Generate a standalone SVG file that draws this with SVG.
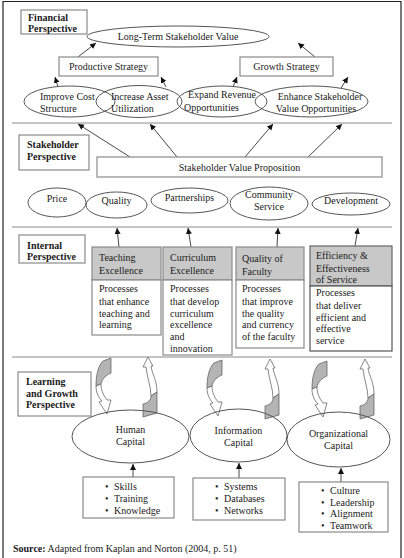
<svg xmlns="http://www.w3.org/2000/svg" width="404" height="558" viewBox="0 0 404 558">
<defs>
<style>
text{font-family:"Liberation Serif","Times New Roman",serif;font-size:10px;fill:#1a1a1a}
.b{font-weight:bold}
.m{text-anchor:middle}
.box{fill:#fff;stroke:#8a8a8a;stroke-width:1.2}
.hdr{fill:#c8c8c8;stroke:#8a8a8a;stroke-width:1.2}
.ell{fill:none;stroke:#555;stroke-width:1}
.sep{stroke:#8a8a8a;stroke-width:1}
.arr{stroke:#333;stroke-width:0.9;fill:none;marker-end:url(#ah)}
.cg{fill:#b4b4b4;stroke:#555;stroke-width:0.7}
.cw{fill:#fff;stroke:#555;stroke-width:0.7}
</style>
<marker id="ah" markerUnits="userSpaceOnUse" markerWidth="8" markerHeight="8" refX="6" refY="3" orient="auto">
<path d="M0,0 L6,3 L0,6 Z" fill="#111"/>
</marker>
<g id="cyc">
<path class="cg" d="M103,361 L111,358 L111,373 C106,375 102,379 101,384 L96,386 C96,375 98,366 103,361 Z"/>
<path class="cw" d="M96,386 C96,393 99,398 102,401 L99,402 L107,414 L111,400 L107,400 C104,396 101,391 101,384 Z"/>
</g>
<g id="cyr">
<path class="cw" d="M148,357 L153,366 L151,366 C152,374 157,380 157,392 L151,396 C151,386 147,378 146,367 L143,367 Z"/>
<path class="cg" d="M151,396 L157,392 L157,413 L143,417 L143,404 C148,403 151,400 151,396 Z"/>
</g>
</defs>
<rect x="0" y="0" width="404" height="558" fill="#fff"/>
<path d="M3,560 V1.5 H401 V560" fill="none" stroke="#222" stroke-width="1.2"/>

<g id="separators">
<line class="sep" x1="12" y1="123" x2="392" y2="123"/>
<line class="sep" x1="12" y1="227" x2="392" y2="227"/>
<line class="sep" x1="12" y1="357" x2="392" y2="357"/>
</g>

<g id="connectors">
<line class="arr" x1="78" y1="57" x2="96" y2="43"/>
<line class="arr" x1="315" y1="57" x2="298" y2="43"/>
<line class="arr" x1="58" y1="87" x2="55" y2="77"/>
<line class="arr" x1="166" y1="87" x2="161" y2="77"/>
<line class="arr" x1="233" y1="87" x2="237" y2="77"/>
<line class="arr" x1="341" y1="88" x2="348" y2="77"/>
<line class="arr" x1="130" y1="157" x2="78" y2="124"/>
<line class="arr" x1="177" y1="157" x2="150" y2="124"/>
<line class="arr" x1="245" y1="157" x2="273" y2="124"/>
<line class="arr" x1="308" y1="157" x2="342" y2="124"/>
<line class="arr" x1="119" y1="247" x2="117" y2="228"/>
<line class="arr" x1="191" y1="247" x2="188" y2="228"/>
<line class="arr" x1="277" y1="247" x2="278" y2="228"/>
<line class="arr" x1="355" y1="246" x2="358" y2="228"/>
<line class="arr" x1="133" y1="477" x2="133" y2="464"/>
<line class="arr" x1="239" y1="478" x2="239" y2="463"/>
<line class="arr" x1="341" y1="482" x2="341" y2="468"/>
<use href="#cyc"/>
<use href="#cyr"/>
<use href="#cyc" transform="translate(111,2)"/>
<use href="#cyr" transform="translate(122,2)"/>
<use href="#cyc" transform="translate(216,3)"/>
<use href="#cyr" transform="translate(217,2)"/>
</g>

<g id="financial-perspective">
<rect class="box" x="21" y="10" width="66" height="24"/>
<text class="b" x="28" y="21">Financial</text>
<text class="b" x="28" y="32">Perspective</text>
</g>
<g id="long-term-value">
<ellipse class="ell" cx="178" cy="36.5" rx="91" ry="10.5"/>
<text class="m" x="178" y="40">Long-Term Stakeholder Value</text>
</g>
<g id="productive-strategy">
<rect class="box" x="59" y="57" width="99" height="19"/>
<text class="m" x="108.5" y="70">Productive Strategy</text>
</g>
<g id="growth-strategy">
<rect class="box" x="240" y="57" width="93" height="19"/>
<text class="m" x="286.5" y="70">Growth Strategy</text>
</g>
<g id="improve-cost">
<ellipse class="ell" cx="69.5" cy="101.5" rx="45.5" ry="15.5"/>
<text x="40" y="100">Improve Cost</text>
<text x="40" y="112">Structure</text>
</g>
<g id="increase-asset">
<ellipse class="ell" cx="139" cy="101.5" rx="43" ry="16"/>
<text x="111" y="100">Increase Asset</text>
<text x="111" y="112">Utilization</text>
</g>
<g id="expand-revenue">
<ellipse class="ell" cx="222" cy="101.5" rx="45" ry="15.5"/>
<text x="188" y="98">Expand Revenue</text>
<text x="184" y="111">Opportunities</text>
</g>
<g id="enhance-value">
<ellipse class="ell" cx="311.5" cy="101.5" rx="56.5" ry="15.5"/>
<text class="m" x="320" y="100">Enhance Stakeholder</text>
<text class="m" x="316" y="112">Value Opportunities</text>
</g>

<g id="stakeholder-perspective">
<rect class="box" x="19" y="135" width="70" height="35"/>
<text class="b" x="27" y="148">Stakeholder</text>
<text class="b" x="27" y="160">Perspective</text>
</g>
<g id="value-proposition">
<rect class="box" x="97" y="157" width="285" height="20"/>
<text class="m" x="239.5" y="171">Stakeholder Value Proposition</text>
</g>
<g id="price">
<ellipse class="ell" cx="57" cy="202.5" rx="29" ry="14.5"/>
<text class="m" x="57" y="202">Price</text>
</g>
<g id="quality">
<ellipse class="ell" cx="116.5" cy="205" rx="30.5" ry="13"/>
<text class="m" x="116.5" y="204">Quality</text>
</g>
<g id="partnerships">
<ellipse class="ell" cx="189.5" cy="200.5" rx="38.5" ry="12.5"/>
<text class="m" x="189.5" y="201">Partnerships</text>
</g>
<g id="community-service">
<ellipse class="ell" cx="269" cy="203.5" rx="39" ry="16.5"/>
<text class="m" x="269" y="198">Community</text>
<text class="m" x="269" y="210">Service</text>
</g>
<g id="development">
<ellipse class="ell" cx="351" cy="204" rx="39" ry="11"/>
<text class="m" x="351" y="204">Development</text>
</g>

<g id="internal-perspective">
<rect class="box" x="19" y="235" width="66" height="28"/>
<text class="b" x="27" y="249">Internal</text>
<text class="b" x="27" y="260">Perspective</text>
</g>
<g id="teaching-excellence">
<rect class="hdr" x="92" y="247" width="69" height="33"/>
<rect class="box" x="92" y="280" width="69" height="55"/>
<text x="99" y="261">Teaching</text>
<text x="99" y="274">Excellence</text>
<text x="99" y="292">Processes</text>
<text x="99" y="304.5">that enhance</text>
<text x="99" y="316.5">teaching and</text>
<text x="99" y="328">learning</text>
</g>
<g id="curriculum-excellence">
<rect class="hdr" x="163" y="247" width="69" height="33"/>
<rect class="box" x="163" y="280" width="69" height="75"/>
<text x="170" y="261">Curriculum</text>
<text x="170" y="274">Excellence</text>
<text x="170" y="292">Processes</text>
<text x="170" y="304.5">that develop</text>
<text x="170" y="316.5">curriculum</text>
<text x="170" y="328">excellence</text>
<text x="170" y="340">and</text>
<text x="170" y="351.5">innovation</text>
</g>
<g id="quality-of-faculty">
<rect class="hdr" x="236" y="247" width="68" height="33"/>
<rect class="box" x="236" y="280" width="68" height="68"/>
<text x="242" y="262">Quality of</text>
<text x="242" y="275">Faculty</text>
<text x="242" y="292">Processes</text>
<text x="242" y="304.5">that improve</text>
<text x="242" y="316.5">the quality</text>
<text x="242" y="328">and currency</text>
<text x="242" y="340">of the faculty</text>
</g>
<g id="efficiency-service">
<rect class="hdr" x="310" y="246" width="82" height="40" style="stroke:#666"/>
<rect class="box" x="310" y="286" width="82" height="65" style="stroke:#555"/>
<text x="316" y="259">Efficiency &amp;</text>
<text x="316" y="271.5">Effectiveness</text>
<text x="316" y="283">of Service</text>
<text x="316" y="296">Processes</text>
<text x="316" y="308.5">that deliver</text>
<text x="316" y="320.5">efficient and</text>
<text x="316" y="332">effective</text>
<text x="316" y="344">service</text>
</g>

<g id="learning-growth-perspective">
<rect class="box" x="18" y="372" width="73" height="44"/>
<text class="b" x="26" y="385">Learning</text>
<text class="b" x="26" y="397">and Growth</text>
<text class="b" x="26" y="408">Perspective</text>
</g>
<g id="human-capital">
<ellipse class="ell" cx="130.5" cy="436.5" rx="58.5" ry="26.5"/>
<text class="m" x="130.5" y="433">Human</text>
<text class="m" x="130.5" y="445">Capital</text>
</g>
<g id="information-capital">
<ellipse class="ell" cx="238.5" cy="435.5" rx="48.5" ry="26.5"/>
<text class="m" x="238.5" y="434">Information</text>
<text class="m" x="238.5" y="446">Capital</text>
</g>
<g id="organizational-capital">
<ellipse class="ell" cx="338.5" cy="439.5" rx="51.5" ry="27.5"/>
<text class="m" x="338.5" y="437">Organizational</text>
<text class="m" x="338.5" y="449">Capital</text>
</g>
<g id="human-items">
<rect class="box" x="83" y="477" width="91" height="41"/>
<text x="105" y="490">•</text><text x="114" y="490">Skills</text>
<text x="105" y="502">•</text><text x="114" y="502">Training</text>
<text x="105" y="514">•</text><text x="114" y="514">Knowledge</text>
</g>
<g id="information-items">
<rect class="box" x="193" y="478" width="92" height="42"/>
<text x="215" y="490">•</text><text x="224" y="490">Systems</text>
<text x="215" y="502">•</text><text x="224" y="502">Databases</text>
<text x="215" y="514">•</text><text x="224" y="514">Networks</text>
</g>
<g id="organizational-items">
<rect class="box" x="299" y="482" width="89" height="50"/>
<text x="321" y="494">•</text><text x="330" y="494">Culture</text>
<text x="321" y="506">•</text><text x="330" y="506">Leadership</text>
<text x="321" y="517">•</text><text x="330" y="517">Alignment</text>
<text x="321" y="529">•</text><text x="330" y="529">Teamwork</text>
</g>

<text x="13" y="552"><tspan class="b">Source:</tspan> Adapted from Kaplan and Norton (2004, p. 51)</text>
</svg>
